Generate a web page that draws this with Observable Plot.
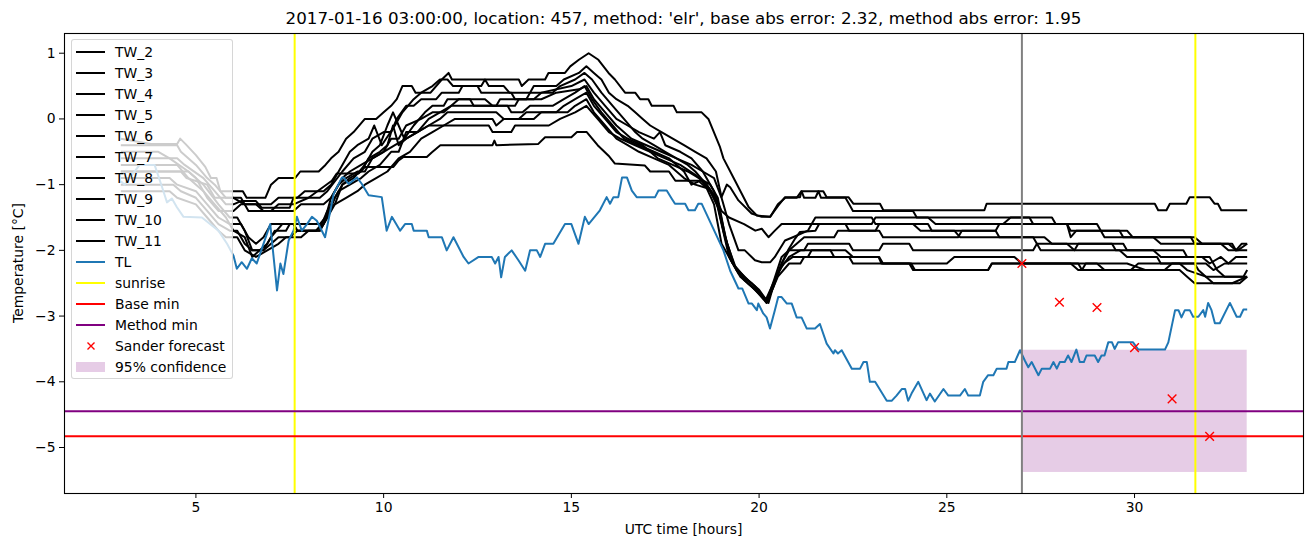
<!DOCTYPE html>
<html>
<head>
<meta charset="utf-8">
<script src="https://cdn.jsdelivr.net/npm/d3@7"></script>
<script src="https://cdn.jsdelivr.net/npm/@observablehq/plot@0.6"></script>
<style>
  html, body { margin: 0; padding: 0; background: #fff; }
  #wrap { position: relative; width: 1313px; height: 547px; font-family: "DejaVu Sans", sans-serif; }
  #wrap svg { display: block; }
  #legend { position: absolute; left: 71px; top: 39px; width: 160px; height: 338px;
            background: rgba(255,255,255,0.8); border: 1px solid rgba(204,204,204,0.8); border-radius: 3px; }
  .row { position: absolute; left: 0; height: 20px; width: 160px; font-size: 13.9px; color: #000; }
  .row svg { position: absolute; left: 0; top: 0; }
  .row span { position: absolute; left: 43px; top: 1px; line-height: 18px; white-space: nowrap; }
</style>
</head>
<body>
<div id="wrap"></div>
<script>
// ---------- data (hours since reference, temperature in °C) ----------
const TW_2 = [[3,-0.3],[3.8,-0.38],[4.5,-0.38],[4.58,-0.3],[4.72,-0.38],[5.0,-0.55],[5.25,-0.73],[5.4,-0.9],[5.55,-0.9],[5.65,-1.1],[6.25,-1.1],[6.35,-1.2],[6.85,-1.2],[7.0,-1.0],[7.2,-0.9],[7.64,-0.9],[7.78,-0.8],[8.27,-0.8],[8.45,-0.7],[8.6,-0.6],[8.8,-0.5],[9.0,-0.3],[9.2,-0.2],[9.5,0.0],[9.8,0.0],[10.0,0.1],[10.2,0.2],[10.35,0.3],[10.5,0.5],[10.75,0.5],[10.85,0.4],[11.25,0.4],[11.55,0.6],[11.73,0.7],[11.82,0.6],[13.6,0.6],[13.68,0.5],[13.86,0.6],[14.3,0.6],[14.39,0.7],[14.83,0.7],[14.97,0.8],[15.2,0.9],[15.46,1.0],[15.72,0.9],[15.99,0.7],[16.16,0.6],[16.43,0.4],[16.7,0.4],[16.83,0.3],[17.05,0.3],[17.14,0.2],[17.72,0.2],[17.81,0.1],[18.47,0.1],[18.65,0.0],[18.96,-0.43],[19.05,-0.6],[19.36,-0.94],[19.72,-1.34],[19.94,-1.47],[20.29,-1.49],[20.51,-1.32],[20.69,-1.19],[21.09,-1.19],[21.13,-1.1],[21.71,-1.1],[21.8,-1.19],[22.38,-1.19],[22.51,-1.29],[23.22,-1.29],[23.31,-1.39],[26.0,-1.39],[26.06,-1.29],[30.54,-1.29],[30.63,-1.39],[30.85,-1.39],[30.94,-1.29],[31.38,-1.29],[31.47,-1.19],[32.0,-1.19],[32.13,-1.29],[32.22,-1.29],[32.31,-1.39],[33,-1.39]];
const TW_3 = [[3,-0.8],[4.6,-0.8],[4.75,-0.9],[5.3,-1.0],[5.5,-1.2],[6.0,-1.2],[6.3,-1.3],[7.0,-1.3],[7.2,-1.2],[7.7,-1.2],[7.9,-1.1],[8.4,-1.1],[8.6,-1.0],[8.9,-0.7],[9.1,-0.5],[9.3,-0.4],[9.6,-0.3],[9.75,-0.1],[9.95,-0.4],[10.3,-0.1],[10.5,0.1],[10.8,0.3],[11.0,0.4],[11.3,0.5],[11.5,0.6],[11.7,0.6],[11.85,0.5],[12.6,0.5],[12.7,0.6],[12.8,0.5],[13.2,0.5],[13.35,0.4],[13.9,0.4],[14.0,0.5],[14.6,0.5],[14.8,0.6],[15.2,0.7],[15.4,0.8],[15.6,0.7],[15.8,0.6],[16.0,0.4],[16.2,0.3],[16.5,0.2],[16.7,0.1],[16.9,0.0],[17.1,-0.1],[17.4,-0.2],[17.7,-0.3],[18.0,-0.4],[18.3,-0.5],[18.6,-0.6],[18.85,-0.8],[19.0,-1.19],[19.14,-1.0],[19.23,-1.04],[19.45,-1.24],[19.8,-1.44],[20.07,-1.49],[20.3,-1.49],[20.5,-1.3],[20.7,-1.2],[21.0,-1.2],[21.13,-1.1],[21.2,-1.2],[21.5,-1.2],[21.58,-1.1],[21.65,-1.2],[22.3,-1.2],[22.4,-1.3],[22.5,-1.4],[24.1,-1.4],[24.2,-1.5],[27.2,-1.5],[27.3,-1.6],[28.2,-1.6],[28.3,-1.7],[29.6,-1.7],[29.7,-1.8],[31.5,-1.8],[31.6,-1.9],[32.6,-1.9],[32.7,-2.0],[32.85,-1.9],[33,-1.9]];
const TW_4 = [[3,-0.6],[4.5,-0.6],[4.7,-0.7],[5.2,-0.9],[5.5,-1.1],[5.8,-1.3],[6.0,-1.3],[6.2,-1.25],[6.6,-1.25],[6.75,-1.35],[7.5,-1.35],[7.6,-1.2],[8.3,-1.2],[8.5,-1.1],[8.9,-0.8],[9.2,-0.6],[9.5,-0.5],[9.7,-0.3],[10.0,-0.2],[10.2,-0.2],[10.35,0.0],[10.6,0.2],[10.8,0.2],[11.0,0.3],[11.4,0.3],[11.55,0.4],[12.0,0.4],[12.1,0.5],[12.5,0.5],[12.6,0.4],[13.4,0.4],[13.5,0.3],[13.8,0.3],[13.9,0.4],[14.5,0.4],[14.7,0.5],[15.1,0.6],[15.35,0.7],[15.55,0.6],[15.8,0.4],[16.1,0.2],[16.4,0.0],[16.7,-0.2],[16.9,-0.3],[17.2,-0.4],[17.5,-0.5],[17.8,-0.6],[18.2,-0.7],[18.5,-0.8],[18.8,-0.9],[19.0,-1.2],[19.2,-1.6],[19.45,-2.0],[19.62,-2.0],[19.89,-2.15],[20.07,-2.18],[20.3,-2.18],[20.42,-2.1],[20.69,-1.85],[20.9,-1.8],[21.3,-1.7],[21.4,-1.6],[22.3,-1.6],[22.4,-1.7],[23.1,-1.7],[23.2,-1.6],[24.5,-1.6],[24.6,-1.7],[26.3,-1.7],[26.4,-1.6],[27.9,-1.6],[28.2,-1.6],[28.3,-1.8],[28.45,-1.7],[29.8,-1.7],[29.95,-1.8],[31.6,-1.8],[31.8,-1.9],[32.3,-1.9],[32.5,-2.0],[32.75,-2.0],[33,-1.9]];
const TW_5 = [[3,-0.9],[4.3,-0.9],[4.5,-1.0],[5.0,-1.1],[5.3,-1.3],[5.6,-1.5],[5.9,-1.6],[6.2,-1.6],[6.4,-1.8],[6.6,-1.9],[6.8,-1.8],[7.0,-1.6],[7.6,-1.6],[7.7,-1.7],[8.3,-1.7],[8.5,-1.5],[8.7,-1.2],[8.9,-1.0],[9.2,-0.9],[9.5,-0.7],[9.7,-0.5],[9.9,-0.4],[10.1,-0.1],[10.25,0.1],[10.4,-0.1],[10.55,-0.3],[10.8,-0.1],[11.1,0.1],[11.3,0.2],[11.6,0.2],[11.7,0.3],[12.3,0.3],[12.4,0.2],[13.0,0.2],[13.1,0.3],[14.0,0.3],[14.2,0.4],[15.0,0.5],[15.35,0.6],[15.6,0.4],[15.9,0.2],[16.2,0.0],[16.5,-0.1],[16.8,-0.2],[17.2,-0.3],[17.36,-0.2],[17.5,-0.4],[17.9,-0.5],[18.2,-0.6],[18.5,-0.8],[18.8,-1.1],[19.0,-1.6],[19.2,-2.1],[19.45,-2.35],[19.8,-2.5],[20.1,-2.7],[20.2,-2.78],[20.38,-2.56],[20.6,-2.2],[20.77,-2.0],[20.96,-1.82],[21.09,-1.72],[21.5,-1.7],[21.6,-1.6],[23.0,-1.6],[23.1,-1.5],[24.5,-1.5],[24.7,-1.6],[26.5,-1.6],[26.7,-1.5],[27.8,-1.5],[27.9,-1.6],[29.0,-1.6],[29.2,-1.8],[30.5,-1.8],[30.7,-1.9],[32.5,-1.9],[32.7,-2.0],[33,-2.0]];
const TW_6 = [[3,-0.5],[4.0,-0.5],[4.3,-0.6],[4.8,-0.8],[5.2,-1.0],[5.6,-1.3],[5.9,-1.5],[6.1,-1.5],[6.3,-1.7],[6.5,-2.0],[6.8,-2.0],[7.0,-1.8],[7.3,-1.6],[7.6,-1.6],[7.7,-1.7],[8.2,-1.7],[8.35,-1.6],[8.5,-1.4],[8.7,-1.3],[8.9,-1.0],[9.1,-0.9],[9.4,-0.8],[9.6,-0.6],[9.9,-0.5],[10.1,-0.4],[10.25,-0.1],[10.4,-0.4],[10.6,-0.3],[10.9,-0.2],[11.2,0.0],[11.5,0.1],[11.8,0.2],[12.0,0.3],[12.7,0.3],[12.9,0.2],[13.5,0.2],[13.6,0.3],[14.2,0.3],[14.6,0.4],[15.2,0.45],[15.4,0.5],[15.6,0.3],[15.9,0.1],[16.2,-0.1],[16.6,-0.3],[17.0,-0.4],[17.4,-0.5],[17.8,-0.6],[18.1,-0.7],[18.3,-0.8],[18.6,-1.0],[18.85,-1.2],[19.05,-1.7],[19.25,-2.15],[19.5,-2.4],[19.8,-2.55],[20.1,-2.72],[20.2,-2.8],[20.4,-2.5],[20.6,-2.2],[20.8,-2.0],[21.0,-1.9],[21.2,-1.8],[22.0,-1.8],[22.1,-1.7],[23.2,-1.7],[23.3,-1.8],[25.3,-1.8],[25.4,-1.7],[26.3,-1.7],[26.4,-1.8],[27.3,-1.8],[27.5,-2.0],[28.4,-2.0],[28.5,-1.9],[29.4,-1.9],[29.5,-2.0],[30.5,-2.0],[30.7,-2.1],[31.8,-2.1],[32.0,-2.2],[32.3,-2.1],[32.5,-2.2],[32.7,-2.1],[33,-2.1]];
const TW_7 = [[3,-0.7],[4.5,-0.7],[4.8,-0.9],[5.2,-1.1],[5.5,-1.3],[5.8,-1.5],[6.0,-1.7],[6.3,-1.8],[6.5,-2.1],[6.7,-2.0],[6.9,-1.9],[7.1,-1.7],[7.4,-1.7],[7.5,-1.6],[8.3,-1.6],[8.45,-1.5],[8.6,-1.2],[8.8,-1.0],[9.0,-0.9],[9.3,-0.8],[9.5,-0.8],[9.7,-0.6],[10.0,-0.5],[10.2,-0.3],[10.4,-0.3],[10.6,-0.1],[11.0,0.0],[11.3,0.1],[11.6,0.1],[11.8,0.2],[13.3,0.2],[13.4,0.1],[13.7,0.1],[13.9,0.2],[14.5,0.2],[14.8,0.3],[15.1,0.4],[15.35,0.5],[15.55,0.3],[15.8,0.1],[16.1,-0.1],[16.4,-0.3],[16.8,-0.4],[17.2,-0.5],[17.6,-0.6],[18.0,-0.8],[18.2,-1.0],[18.4,-0.95],[18.7,-1.1],[18.95,-1.4],[19.15,-1.9],[19.4,-2.3],[19.7,-2.5],[20.0,-2.65],[20.2,-2.78],[20.4,-2.45],[20.6,-2.1],[20.8,-2.0],[21.2,-2.0],[21.3,-1.9],[22.4,-1.9],[22.5,-2.0],[23.2,-2.0],[23.3,-1.9],[24.0,-1.9],[24.1,-2.0],[27.3,-2.0],[27.4,-1.9],[28.2,-1.9],[28.4,-2.0],[29.6,-2.0],[29.8,-2.1],[30.6,-2.1],[30.7,-2.2],[31.9,-2.2],[32.1,-2.3],[32.4,-2.2],[33,-2.2]];
const TW_8 = [[3,-1.0],[4.4,-1.0],[4.6,-1.1],[5.0,-1.2],[5.3,-1.4],[5.6,-1.6],[5.9,-1.7],[6.1,-1.7],[6.3,-1.9],[6.5,-2.0],[6.8,-2.0],[7.0,-1.9],[7.2,-1.8],[7.5,-1.8],[7.7,-1.7],[8.2,-1.7],[8.4,-1.6],[8.6,-1.3],[8.8,-1.1],[9.1,-1.0],[9.4,-0.9],[9.6,-0.8],[9.9,-0.7],[10.2,-0.5],[10.4,-0.5],[10.6,-0.2],[10.9,-0.2],[11.2,-0.1],[11.5,0.0],[11.7,0.1],[13.0,0.1],[13.2,0.0],[13.6,0.0],[13.8,0.1],[14.6,0.1],[14.8,0.2],[15.1,0.3],[15.4,0.4],[15.6,0.2],[15.9,0.0],[16.2,-0.2],[16.5,-0.3],[16.9,-0.4],[17.3,-0.6],[17.7,-0.7],[18.1,-0.8],[18.4,-0.9],[18.7,-1.0],[18.9,-1.2],[19.1,-1.8],[19.35,-2.25],[19.7,-2.45],[20.0,-2.6],[20.25,-2.8],[20.45,-2.4],[20.65,-2.2],[20.9,-2.1],[21.3,-2.1],[21.4,-2.0],[22.3,-2.0],[22.5,-2.1],[23.2,-2.1],[23.3,-2.2],[24.05,-2.2],[24.15,-2.3],[26.1,-2.3],[26.2,-2.2],[29.0,-2.2],[29.2,-2.3],[30.8,-2.3],[31.0,-2.2],[31.6,-2.2],[31.7,-2.3],[31.9,-2.4],[32.9,-2.4],[33,-2.3]];
const TW_9 = [[3,-1.1],[4.3,-1.1],[4.5,-1.2],[5.0,-1.3],[5.3,-1.5],[5.6,-1.7],[5.8,-1.8],[6.1,-1.8],[6.3,-2.0],[6.6,-2.1],[6.9,-2.0],[7.2,-1.9],[7.4,-1.8],[7.8,-1.8],[8.0,-1.7],[8.3,-1.7],[8.5,-1.5],[8.7,-1.3],[9.0,-1.2],[9.3,-1.1],[9.5,-1.0],[9.8,-0.9],[10.1,-0.8],[10.4,-0.6],[10.7,-0.5],[11.0,-0.3],[11.3,-0.2],[11.6,-0.1],[11.9,0.0],[12.9,0.0],[13.0,-0.1],[13.2,0.0],[14.0,0.0],[14.2,0.1],[14.9,0.1],[15.1,0.2],[15.4,0.3],[15.6,0.1],[15.9,-0.1],[16.2,-0.3],[16.5,-0.4],[16.8,-0.5],[17.2,-0.6],[17.6,-0.7],[18.0,-0.9],[18.3,-1.0],[18.6,-1.05],[18.8,-1.3],[19.0,-1.9],[19.3,-2.2],[19.6,-2.45],[19.9,-2.6],[20.2,-2.8],[20.5,-2.4],[20.8,-2.2],[21.1,-2.2],[21.2,-2.1],[22.4,-2.1],[22.5,-2.2],[25.0,-2.2],[25.2,-2.1],[26.8,-2.1],[27.0,-2.2],[28.3,-2.2],[28.5,-2.3],[29.9,-2.3],[30.1,-2.2],[31.2,-2.2],[31.4,-2.3],[31.9,-2.4],[32.1,-2.5],[32.8,-2.5],[33,-2.4]];
const TW_10 = [[3,-0.8],[4.8,-0.8],[5.0,-0.9],[5.3,-1.2],[5.6,-1.4],[6.0,-1.4],[6.2,-1.3],[6.6,-1.3],[6.8,-1.4],[7.6,-1.4],[7.8,-1.3],[8.4,-1.3],[8.6,-1.2],[8.9,-0.9],[9.1,-0.8],[9.4,-0.7],[9.7,-0.6],[10.0,-0.5],[10.3,-0.4],[10.6,-0.3],[10.9,-0.2],[11.2,-0.1],[12.8,-0.1],[12.9,-0.2],[13.4,-0.2],[13.5,-0.1],[14.4,-0.1],[14.7,0.0],[15.1,0.1],[15.4,0.2],[15.7,0.0],[16.0,-0.2],[16.3,-0.3],[16.7,-0.4],[17.1,-0.5],[17.5,-0.6],[17.9,-0.7],[18.3,-0.85],[18.6,-1.0],[18.85,-1.2],[19.0,-1.4],[19.2,-1.5],[19.6,-1.6],[19.9,-1.7],[20.07,-1.67],[20.25,-1.8],[20.42,-1.7],[20.6,-1.6],[21.4,-1.6],[21.5,-1.5],[23.0,-1.5],[23.1,-1.6],[24.1,-1.6],[24.3,-1.7],[25.2,-1.7],[25.35,-1.8],[27.6,-1.8],[27.8,-1.9],[29.7,-1.9],[29.8,-2.0],[31.3,-2.0],[31.4,-2.1],[32.0,-2.1],[32.2,-2.3],[32.4,-2.4],[33,-2.4]];
const TW_11 = [[3,-0.4],[4.5,-0.4],[4.6,-0.5],[5.0,-0.7],[5.3,-0.9],[5.5,-1.0],[5.8,-1.2],[6.2,-1.2],[6.4,-1.4],[7.0,-1.4],[7.2,-1.3],[7.6,-1.3],[8.0,-1.2],[8.62,-0.94],[8.75,-0.83],[9.33,-0.83],[9.51,-0.73],[10.26,-0.73],[10.4,-0.63],[10.53,-0.58],[11.15,-0.58],[11.28,-0.51],[11.51,-0.4],[12.9,-0.4],[12.95,-0.33],[13.0,-0.4],[14.12,-0.38],[14.3,-0.28],[15.0,-0.28],[15.15,-0.2],[15.41,-0.2],[15.7,-0.4],[15.99,-0.56],[16.16,-0.68],[16.96,-0.71],[17.1,-0.8],[17.6,-0.8],[17.77,-0.94],[18.47,-0.94],[18.7,-1.1],[18.9,-1.3],[19.05,-1.7],[19.3,-2.2],[19.6,-2.4],[19.9,-2.55],[20.18,-2.75],[20.38,-2.5],[20.6,-2.25],[20.8,-2.1],[21.1,-2.0],[21.9,-2.0],[22.0,-2.1],[23.18,-2.1],[23.26,-2.2],[24.0,-2.2],[24.1,-2.3],[26.1,-2.3],[26.2,-2.2],[28.5,-2.2],[28.6,-2.3],[28.7,-2.2],[29.8,-2.2],[30.3,-2.3],[31.2,-2.3],[31.4,-2.4],[31.6,-2.5],[32.6,-2.5],[33,-2.4]];
const TL = [[3.0,-0.95],[3.1,-1.0],[3.3,-0.85],[3.5,-0.7],[3.9,-0.7],[4.1,-1.04],[4.23,-1.27],[4.36,-1.21],[4.49,-1.34],[4.67,-1.49],[5.16,-1.5],[5.6,-1.7],[5.83,-1.9],[6.0,-2.08],[6.09,-2.28],[6.22,-2.18],[6.36,-2.28],[6.49,-2.12],[6.62,-2.2],[6.98,-1.6],[7.16,-2.61],[7.25,-2.2],[7.33,-2.36],[7.47,-1.85],[7.6,-1.7],[7.69,-1.49],[7.82,-1.7],[7.96,-1.6],[8.09,-1.49],[8.22,-1.55],[8.44,-1.8],[8.67,-1.14],[8.89,-0.89],[8.93,-0.89],[9.07,-0.99],[9.29,-0.89],[9.42,-0.99],[9.6,-1.16],[9.95,-1.19],[10.08,-1.7],[10.22,-1.49],[10.44,-1.7],[10.57,-1.6],[10.75,-1.6],[10.8,-1.7],[11.15,-1.7],[11.2,-1.8],[11.55,-1.8],[11.68,-2.0],[11.86,-1.8],[12.13,-2.1],[12.26,-2.2],[12.53,-2.1],[12.88,-2.1],[12.97,-2.2],[13.06,-2.1],[13.13,-2.41],[13.23,-2.1],[13.41,-2.0],[13.59,-2.15],[13.77,-2.31],[13.9,-2.0],[14.08,-2.0],[14.17,-2.1],[14.3,-1.9],[14.52,-1.9],[14.83,-1.6],[15.0,-1.6],[15.19,-1.9],[15.36,-1.49],[15.46,-1.6],[15.76,-1.39],[15.94,-1.19],[16.03,-1.29],[16.12,-1.19],[16.25,-1.19],[16.35,-0.89],[16.48,-0.89],[16.61,-1.09],[16.74,-1.19],[17.23,-1.19],[17.32,-1.09],[17.54,-1.09],[17.67,-1.21],[17.76,-1.29],[18.03,-1.29],[18.12,-1.39],[18.29,-1.39],[18.38,-1.29],[18.47,-1.29],[19.05,-2.0],[19.23,-2.31],[19.45,-2.58],[19.55,-2.58],[19.72,-2.81],[19.81,-2.81],[19.94,-2.91],[19.98,-2.81],[20.11,-2.96],[20.2,-3.02],[20.29,-3.19],[20.42,-2.91],[20.51,-2.71],[20.6,-2.71],[20.74,-2.81],[20.87,-2.81],[21.0,-3.02],[21.13,-3.02],[21.27,-3.19],[21.49,-3.19],[21.62,-3.12],[21.8,-3.42],[21.98,-3.57],[22.02,-3.52],[22.1,-3.57],[22.2,-3.52],[22.47,-3.8],[22.69,-3.8],[22.78,-3.7],[22.87,-3.7],[22.95,-4.0],[23.09,-4.0],[23.4,-4.29],[23.53,-4.29],[23.66,-4.21],[23.8,-4.11],[23.89,-4.11],[23.97,-4.29],[24.06,-4.18],[24.24,-4.0],[24.46,-4.28],[24.55,-4.18],[24.68,-4.3],[24.91,-4.11],[25.04,-4.21],[25.35,-4.21],[25.48,-4.11],[25.57,-4.21],[25.88,-4.21],[25.97,-4.0],[26.1,-3.9],[26.24,-3.9],[26.33,-3.8],[26.59,-3.8],[26.64,-3.7],[26.81,-3.7],[26.95,-3.52],[27.08,-3.68],[27.17,-3.78],[27.26,-3.7],[27.44,-3.9],[27.53,-3.8],[27.75,-3.8],[27.84,-3.7],[27.93,-3.8],[28.01,-3.7],[28.14,-3.7],[28.23,-3.6],[28.32,-3.7],[28.45,-3.51],[28.54,-3.7],[28.65,-3.7],[28.72,-3.6],[28.94,-3.6],[29.03,-3.7],[29.12,-3.6],[29.2,-3.6],[29.3,-3.4],[29.4,-3.4],[29.47,-3.5],[29.56,-3.4],[29.96,-3.4],[30.1,-3.51],[30.81,-3.51],[30.9,-3.4],[31.08,-2.91],[31.17,-2.91],[31.25,-3.02],[31.34,-2.91],[31.47,-2.91],[31.56,-3.01],[31.7,-3.01],[31.83,-2.91],[31.88,-3.01],[31.96,-2.8],[32.05,-2.91],[32.14,-3.11],[32.27,-3.11],[32.54,-2.8],[32.72,-3.01],[32.81,-3.01],[32.9,-2.9],[33.0,-2.9]];

const sunriseHours = [7.63, 31.62];
const baseMin = -4.83;
const methodMin = -4.45;
const forecastStartHour = 27;
const forecastHours = [27, 28, 29, 30, 31, 32];
const forecastValues = [-2.2, -2.79, -2.87, -3.48, -4.26, -4.83];
const confStart = 27, confEnd = 33, confLow = -5.38, confHigh = -3.52;
const xTicks = [5, 10, 15, 20, 25, 30];
const yTicks = [-5, -4, -3, -2, -1, 0, 1];
const xDomain = [1.5, 34.5];
const yDomain = [-5.7, 1.3];
const titleText = "2017-01-16 03:00:00, location: 457, method: 'elr', base abs error: 2.32, method abs error: 1.95";
const xLabel = "UTC time [hours]";
const yLabel = "Temperature [°C]";

const twNames = ["TW_2","TW_3","TW_4","TW_5","TW_6","TW_7","TW_8","TW_9","TW_10","TW_11"];
const twSeries = [TW_2, TW_3, TW_4, TW_5, TW_6, TW_7, TW_8, TW_9, TW_10, TW_11];

// ---------- build tables ----------
const twRows = twSeries.flatMap((s, i) => s.map(([t, v]) => ({s: twNames[i], t, v})));
const tlRows = TL.map(([t, v]) => ({t, v}));
const fcRows = forecastHours.map((t, i) => ({t, v: forecastValues[i]}));
const band = [{x1: confStart, x2: confEnd, y1: confLow, y2: confHigh}];
const minus = d => (d < 0 ? "\u2212" + Math.abs(d) : String(d));
const LW = 2;

const chart = Plot.plot({
  width: 1313,
  height: 547,
  marginLeft: 64,
  marginRight: 10,
  marginTop: 33,
  marginBottom: 54,
  style: {fontFamily: "'DejaVu Sans', sans-serif", fontSize: "13.9px", background: "white", color: "black"},
  x: {domain: xDomain, ticks: xTicks, tickFormat: minus, tickSize: 5, tickPadding: 4, label: null},
  y: {domain: yDomain, ticks: yTicks, tickFormat: minus, tickSize: 5, tickPadding: 4, label: null},
  marks: [
    Plot.rect(band, {x1: "x1", x2: "x2", y1: "y1", y2: "y2", fill: "purple", fillOpacity: 0.2}),
    Plot.line(twRows, {x: "t", y: "v", z: "s", stroke: "black", strokeWidth: LW, strokeLinejoin: "round", strokeLinecap: "butt"}),
    Plot.line(tlRows, {x: "t", y: "v", stroke: "#1f77b4", strokeWidth: LW, strokeLinejoin: "round", strokeLinecap: "butt"}),
    Plot.ruleX(sunriseHours, {stroke: "yellow", strokeWidth: LW}),
    Plot.ruleY([baseMin], {stroke: "red", strokeWidth: LW}),
    Plot.ruleY([methodMin], {stroke: "purple", strokeWidth: LW}),
    Plot.ruleX([forecastStartHour], {stroke: "gray", strokeWidth: LW}),
    Plot.dot(fcRows, {x: "t", y: "v", symbol: "times", r: 4, stroke: "red", strokeWidth: 1.4}),
    Plot.frame({stroke: "black", strokeWidth: 1.1})
  ]
});

const wrap = document.getElementById("wrap");
wrap.appendChild(chart);

// titles and axis labels as text
const svg = d3.select(chart);
svg.append("text").attr("x", 683.5).attr("y", 18).attr("dy", "0.35em")
  .attr("text-anchor", "middle").attr("font-size", "16.7px").attr("fill", "black").text(titleText);
svg.append("text").attr("x", 683.5).attr("y", 529).attr("dy", "0.35em")
  .attr("text-anchor", "middle").attr("font-size", "13.9px").attr("fill", "black").text(xLabel);
svg.append("text").attr("transform", "translate(18,263) rotate(-90)").attr("dy", "0.35em")
  .attr("text-anchor", "middle").attr("font-size", "13.9px").attr("fill", "black").text(yLabel);

// legend (HTML overlay, semi-transparent like matplotlib)
const legendItems = [
  ...twNames.map(n => ({label: n, kind: "line", color: "black"})),
  {label: "TL", kind: "line", color: "#1f77b4"},
  {label: "sunrise", kind: "line", color: "yellow"},
  {label: "Base min", kind: "line", color: "red"},
  {label: "Method min", kind: "line", color: "purple"},
  {label: "Sander forecast", kind: "x", color: "red"},
  {label: "95% confidence", kind: "patch", color: "purple"}
];
const legend = document.createElement("div");
legend.id = "legend";
legendItems.forEach((it, i) => {
  const row = document.createElement("div");
  row.className = "row";
  row.style.top = (1.7 + 21 * i) + "px";
  let sym = "";
  if (it.kind === "line") sym = `<line x1="4" x2="33" y1="10" y2="10" stroke="${it.color}" stroke-width="2"/>`;
  else if (it.kind === "x") sym = `<path d="M15.5,6.5L22.5,13.5M22.5,6.5L15.5,13.5" stroke="${it.color}" stroke-width="1.4"/>`;
  else sym = `<rect x="4" y="5" width="29" height="10" fill="${it.color}" fill-opacity="0.2"/>`;
  row.innerHTML = `<svg width="40" height="20">${sym}</svg><span>${it.label}</span>`;
  legend.appendChild(row);
});
wrap.appendChild(legend);
</script>
</body>
</html>
